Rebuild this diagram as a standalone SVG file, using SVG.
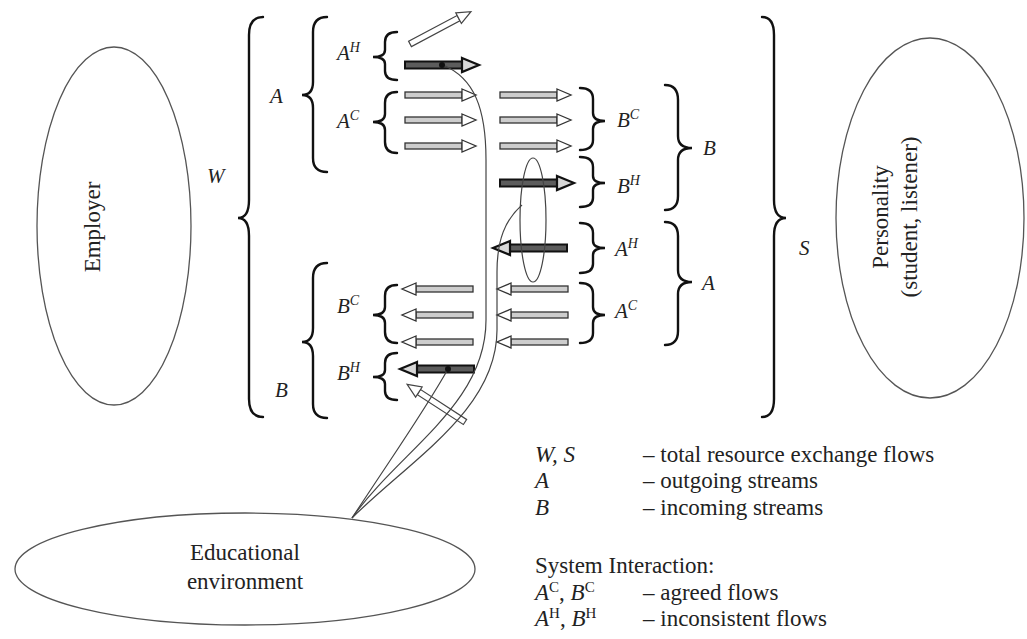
<svg xmlns="http://www.w3.org/2000/svg" xmlns:xlink="http://www.w3.org/1999/xlink" width="1027" height="639" viewBox="0 0 1027 639" font-family="'Liberation Serif', 'DejaVu Serif', serif">
<style>
.bg{fill:#fff}
.ell{fill:none;stroke:#555;stroke-width:1.3}
.brace{fill:none;stroke:#111;stroke-width:2.4;stroke-linecap:round}
.curve{fill:none;stroke:#444;stroke-width:1.2}
text{font-family:'Liberation Serif','DejaVu Serif',serif}
.t{font-size:23px;fill:#222}
.i{font-size:21px;font-style:italic;fill:#222}
.li{font-size:23px;font-style:italic;fill:#222}
.sup{font-size:14px}
.supu{font-size:15px;font-style:normal}
</style>
<defs>
<g id="ac"><rect x="0" y="-3" width="57" height="6" fill="#cdcdcd" stroke="#333" stroke-width="1.3"/><path d="M57,-6 L71,0 L57,6 Z" fill="#fff" stroke="#333" stroke-width="1.3"/></g>
<g id="ah"><rect x="0" y="-3.5" width="57" height="7" fill="#5c5c5c" stroke="#111" stroke-width="2"/><path d="M57,-7 L74,0 L57,7 Z" fill="#d8d8d8" stroke="#111" stroke-width="2.2"/></g>
<g id="ao"><rect x="0" y="-3" width="55" height="6" fill="#fff" stroke="#444" stroke-width="1.2"/><path d="M55,-6 L69,0 L55,6 Z" fill="#fff" stroke="#444" stroke-width="1.2"/></g>
</defs>
<rect class="bg" x="0" y="0" width="1027" height="639"/>

<g id="employer">
<ellipse class="ell" cx="114" cy="226" rx="77" ry="179"/>
<text class="t" transform="translate(100,227) rotate(-90)" text-anchor="middle">Employer</text>
</g>

<g id="personality">
<ellipse class="ell" cx="930" cy="218" rx="94" ry="180"/>
<text class="t" transform="translate(888,217) rotate(-90)" text-anchor="middle">Personality</text>
<text class="t" transform="translate(917,217) rotate(-90)" text-anchor="middle">(student, listener)</text>
</g>

<g id="educational">
<ellipse class="ell" cx="245" cy="569" rx="230" ry="56"/>
<text class="t" x="245" y="560" text-anchor="middle">Educational</text>
<text class="t" x="245" y="589" text-anchor="middle">environment</text>
</g>

<g id="braces">
<path class="brace" d="M263,17 Q249,17 249,35 L249,200 Q249,218 238,218 Q249,218 249,236 L249,399 Q249,417 263,417"/>
<path class="brace" d="M327,17 Q313,17 313,32 L313,82 Q313,95 302,95 Q313,95 313,108 L313,158 Q313,172 327,172"/>
<path class="brace" d="M327,263 Q313,263 313,278 L313,328 Q313,342 302,342 Q313,342 313,356 L313,404 Q313,418 327,418"/>
<path class="brace" d="M397,32 Q385,32 385,42 L385,50 Q385,57 373,57 Q385,57 385,64 L385,71 Q385,80 397,80"/>
<path class="brace" d="M397,92 Q385,92 385,103 L385,114 Q385,122 373,122 Q385,122 385,130 L385,142 Q385,153 397,153"/>
<path class="brace" d="M397,285 Q385,285 385,296 L385,307 Q385,315 373,315 Q385,315 385,323 L385,332 Q385,343 397,343"/>
<path class="brace" d="M397,353 Q385,353 385,363 L385,370 Q385,377 373,377 Q385,377 385,384 L385,391 Q385,400 397,400"/>
<path class="brace" d="M580,88 Q593,88 593,99 L593,113 Q593,121 605,121 Q593,121 593,129 L593,140 Q593,150 580,150"/>
<path class="brace" d="M580,157 Q593,157 593,167 L593,176 Q593,183 605,183 Q593,183 593,190 L593,198 Q593,207 580,207"/>
<path class="brace" d="M580,223 Q593,223 593,233 L593,241 Q593,248 605,248 Q593,248 593,255 L593,264 Q593,273 580,273"/>
<path class="brace" d="M580,283 Q593,283 593,294 L593,307 Q593,315 605,315 Q593,315 593,323 L593,333 Q593,343 580,343"/>
<path class="brace" d="M665,85 Q678,85 678,100 L678,136 Q678,148 692,148 Q678,148 678,160 L678,196 Q678,210 665,210"/>
<path class="brace" d="M665,222 Q678,222 678,236 L678,270 Q678,282 692,282 Q678,282 678,294 L678,331 Q678,345 665,345"/>
<path class="brace" d="M762,17 Q774,17 774,35 L774,200 Q774,218 786,218 Q774,218 774,236 L774,399 Q774,417 762,417"/>
</g>

<g id="labels">
<text class="i" x="207" y="183">W</text>
<text class="i" x="270" y="103">A</text>
<text class="i" x="275" y="397">B</text>
<text class="i" x="337" y="60">A<tspan class="sup" dy="-8">H</tspan></text>
<text class="i" x="337" y="128">A<tspan class="sup" dy="-8">C</tspan></text>
<text class="i" x="337" y="313">B<tspan class="sup" dy="-8">C</tspan></text>
<text class="i" x="337" y="380">B<tspan class="sup" dy="-8">H</tspan></text>
<text class="i" x="617" y="127">B<tspan class="sup" dy="-8">C</tspan></text>
<text class="i" x="617" y="193">B<tspan class="sup" dy="-8">H</tspan></text>
<text class="i" x="615" y="256">A<tspan class="sup" dy="-8">H</tspan></text>
<text class="i" x="615" y="318">A<tspan class="sup" dy="-8">C</tspan></text>
<text class="i" x="703" y="155">B</text>
<text class="i" x="702" y="290">A</text>
<text class="i" x="799" y="255">S</text>
</g>

<g id="flows">
<use xlink:href="#ao" transform="translate(410,44) rotate(-28)"/>
<use xlink:href="#ah" transform="translate(405,65)"/>
<use xlink:href="#ac" transform="translate(405,95)"/>
<use xlink:href="#ac" transform="translate(405,120)"/>
<use xlink:href="#ac" transform="translate(405,146)"/>
<use xlink:href="#ac" transform="translate(500,95)"/>
<use xlink:href="#ac" transform="translate(500,120)"/>
<use xlink:href="#ac" transform="translate(500,146)"/>
<use xlink:href="#ah" transform="translate(500,183)"/>
<use xlink:href="#ah" transform="translate(567,248) scale(-1,1)"/>
<use xlink:href="#ac" transform="translate(568,289) scale(-1,1)"/>
<use xlink:href="#ac" transform="translate(568,315) scale(-1,1)"/>
<use xlink:href="#ac" transform="translate(568,342) scale(-1,1)"/>
<use xlink:href="#ac" transform="translate(473,289) scale(-1,1)"/>
<use xlink:href="#ac" transform="translate(473,315) scale(-1,1)"/>
<use xlink:href="#ac" transform="translate(473,342) scale(-1,1)"/>
<use xlink:href="#ah" transform="translate(474,369) scale(-1,1)"/>
<use xlink:href="#ao" transform="translate(465,422) rotate(-147)"/>
</g>

<g id="connectors">
<ellipse class="curve" cx="533" cy="220" rx="13" ry="62"/>
<path class="curve" d="M443,65 C474,78 486,108 486,160 L486,320 C486,405 400,450 352,518"/>
<path class="curve" d="M522,205 C505,220 497,240 497,272 L497,330 C497,410 410,460 352,518"/>
<path class="curve" d="M448,369 C425,410 400,445 352,518"/>
<circle cx="442" cy="65" r="3" fill="#111"/>
<circle cx="448" cy="369" r="3" fill="#111"/>
</g>

<g id="legend">
<text class="li" x="535" y="462">W, S</text>
<text class="t" x="643" y="462">– total resource exchange flows</text>
<text class="li" x="535" y="488">A</text>
<text class="t" x="643" y="488">– outgoing streams</text>
<text class="li" x="535" y="515">B</text>
<text class="t" x="643" y="515">– incoming streams</text>
<text class="t" x="535" y="573">System Interaction:</text>
<text class="li" x="535" y="600">A<tspan class="supu" dy="-8">C</tspan><tspan dy="8" style="font-style:normal">, </tspan>B<tspan class="supu" dy="-8">C</tspan></text>
<text class="t" x="643" y="600">– agreed flows</text>
<text class="li" x="535" y="626">A<tspan class="supu" dy="-8">H</tspan><tspan dy="8" style="font-style:normal">, </tspan>B<tspan class="supu" dy="-8">H</tspan></text>
<text class="t" x="643" y="626">– inconsistent flows</text>
</g>
</svg>
